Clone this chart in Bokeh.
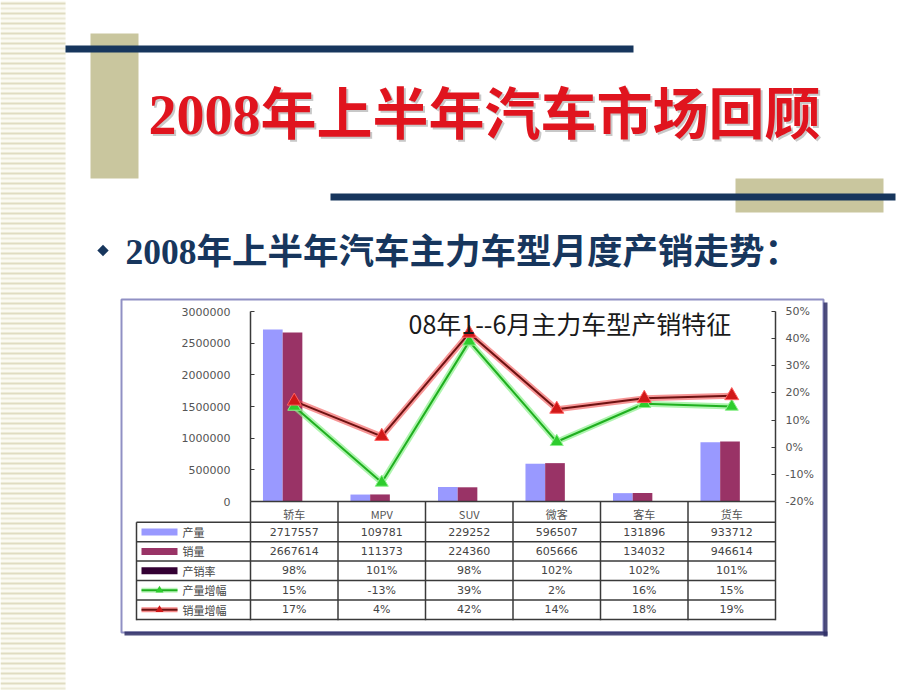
import math
from bokeh.plotting import figure
from bokeh.models import (Range1d, LinearAxis, Label, ColumnDataSource,
                          NumeralTickFormatter, FixedTicker)
from bokeh.transform import dodge
from bokeh.embed import file_html
from bokeh.resources import INLINE

# ---------------- data ----------------
categories = ["轿车", "MPV", "SUV", "微客", "客车", "货车"]
production = [2717557, 109781, 229252, 596507, 131896, 933712]
sales = [2667614, 111373, 224360, 605666, 134032, 946614]
ratio_pct = [98, 101, 98, 102, 102, 101]
prod_growth_pct = [15, -13, 39, 2, 16, 15]
sales_growth_pct = [17, 4, 42, 14, 18, 19]
row_names = ["产量", "销量", "产销率", "产量增幅", "销量增幅"]
volume_ticks = [0, 500000, 1000000, 1500000, 2000000, 2500000, 3000000]
growth_ticks_pct = [-20, -10, 0, 10, 20, 30, 40, 50]
slide_title = "2008年上半年汽车市场回顾"
slide_subtitle = "2008年上半年汽车主力车型月度产销走势："
chart_title = "08年1--6月主力车型产销特征"

# ---------------- style ----------------
C_PROD, C_SALES, C_RATIO = "#9999FF", "#993366", "#330033"
C_G_CORE, C_G_GLOW, C_G_MARK = "#1FAF1F", "#8CF08C", "#2ECC2E"
C_R_CORE, C_R_GLOW, C_R_MARK = "#6E1212", "#F04040", "#D01818"
NAVY, KHAKI = "#17365D", "#C9C69E"
GRIDC = "#3A3A3A"
TXT = "#444444"
CJK = "Noto Sans CJK SC"
NUMF = "DejaVu Sans"

W, H = 920, 690
FX0, FX1, FY0, FY1 = 250, 775, 311, 501   # chart plot area on the page (pixels)

n = len(categories)
xpos = [i + 0.5 for i in range(n)]   # category slot centres

# ranges chosen so the chart's plot area sits at FX0..FX1 / FY0..FY1 of a full-page frame
ux = (FX1 - FX0) / n
vmax = volume_ticks[-1]
uy = vmax / (FY1 - FY0)
g0, g1 = growth_ticks_pct[0] / 100, growth_ticks_pct[-1] / 100
ug = (g1 - g0) / (FY1 - FY0)

p = figure(width=W, height=H,
           x_range=Range1d(-FX0 / ux, (W - FX0) / ux),
           y_range=Range1d(-(H - FY1) * uy, FY1 * uy),
           x_axis_location=None, y_axis_location=None,
           output_backend="svg", toolbar_location=None, tools="", min_border=0)
p.extra_x_ranges = {"px": Range1d(0, W)}
p.extra_y_ranges = {"py": Range1d(H, 0),
                    "pct": Range1d(g0 - (H - FY1) * ug, g0 + FY1 * ug)}
p.background_fill_color = "white"
p.border_fill_color = "white"
p.outline_line_color = None
p.xgrid.visible = False
p.ygrid.visible = False


def boxes(spec, color, alpha=1.0):
    l, r, t, b = zip(*spec)
    p.quad(left=list(l), right=list(r), top=list(t), bottom=list(b),
           x_range_name="px", y_range_name="py",
           fill_color=color, fill_alpha=alpha, line_color=None)


def label(x, y, text, size, color, font, align="left", style="normal", alpha=1.0):
    p.add_layout(Label(x=x, y=y, text=text, x_range_name="px", y_range_name="py",
                       text_font=font, text_font_size=size, text_color=color,
                       text_font_style=style, text_align=align,
                       text_baseline="middle", text_alpha=alpha))


# ---------------- slide decoration ----------------
boxes([(0, 65, 0, H)], "#FBFAF2")
stripes = list(range(2, H, 5))
boxes([(0, 65, yy, yy + 2) for yy in stripes[0::2]], "#E0DCC0")
boxes([(0, 65, yy, yy + 2) for yy in stripes[1::2]], "#ECE9D6")

boxes([(90, 138, 33, 178), (735, 883, 178, 212)], KHAKI)
boxes([(65, 633, 45, 52), (330, 895, 193, 200)], NAVY)

title_font = "Liberation Serif, " + CJK
label(150, 116, slide_title, "56px", "#9A9A9A", title_font, style="bold", alpha=0.55)
label(148, 114, slide_title, "56px", "#E0141E", title_font, style="bold")

p.scatter([102.5], [250], marker="square", size=8, angle=math.pi / 4,
          x_range_name="px", y_range_name="py", fill_color=NAVY, line_color=None)
label(125, 251, slide_subtitle, "35.5px", NAVY, title_font, style="bold")

# ---------------- chart box ----------------
p.quad(left=[121], right=[823], top=[299], bottom=[632], x_range_name="px", y_range_name="py",
       fill_color=None, line_color="#9090C4", line_width=2)
boxes([(823, 827, 302, 636), (124, 827, 631, 635)], "#2E2E66", 0.85)

label(408, 322, chart_title, "25px", "#1A1A1A", CJK)

# ---------------- bars ----------------
src = ColumnDataSource(dict(
    x=xpos, prod=production, sales=sales,
    ratio=[v / 100 for v in ratio_pct],
    pg=[v / 100 for v in prod_growth_pct],
    sg=[v / 100 for v in sales_growth_pct]))

p.vbar(x=dodge("x", -0.245), top="prod", width=0.225, source=src,
       fill_color=C_PROD, line_color=None)
p.vbar(x=dodge("x", -0.02), top="sales", width=0.225, source=src,
       fill_color=C_SALES, line_color=None)
p.vbar(x=dodge("x", 0.205), top="ratio", width=0.225, source=src,
       fill_color=C_RATIO, line_color=None)

# ---------------- growth lines ----------------
p.line("x", "pg", source=src, y_range_name="pct", line_width=6, line_color=C_G_GLOW, line_alpha=0.7)
p.line("x", "pg", source=src, y_range_name="pct", line_width=2, line_color=C_G_CORE)
p.line("x", "sg", source=src, y_range_name="pct", line_width=6, line_color=C_R_GLOW, line_alpha=0.55)
p.line("x", "sg", source=src, y_range_name="pct", line_width=2, line_color=C_R_CORE)
p.scatter("x", "pg", source=src, y_range_name="pct", marker="triangle", size=13,
          fill_color=C_G_MARK, line_color=C_G_GLOW, line_width=1)
p.scatter("x", "sg", source=src, y_range_name="pct", marker="triangle", size=14,
          fill_color=C_R_MARK, line_color="#FF6060", line_width=1)

# ---------------- axes ----------------
def style_axis(ax, font, inner=4):
    ax.major_tick_in, ax.major_tick_out = inner, 0
    ax.minor_tick_line_color = None
    ax.major_label_text_font = font
    ax.major_label_text_font_size = "11px"
    ax.major_label_text_color = "#555555"
    ax.axis_line_color = GRIDC
    ax.axis_line_width = 1.5
    ax.major_tick_line_color = GRIDC


yl = LinearAxis(fixed_location=0, bounds=(0, vmax),
                ticker=FixedTicker(ticks=volume_ticks),
                formatter=NumeralTickFormatter(format="0"))
style_axis(yl, NUMF)
yl.major_label_standoff = 20
p.add_layout(yl, "left")

yr = LinearAxis(y_range_name="pct", fixed_location=n, bounds=(g0, g1),
                ticker=FixedTicker(ticks=[t / 100 for t in growth_ticks_pct]),
                formatter=NumeralTickFormatter(format="0%"))
style_axis(yr, NUMF)
yr.major_label_standoff = 10
p.add_layout(yr, "right")

xa = LinearAxis(fixed_location=0, bounds=(0, n), ticker=FixedTicker(ticks=xpos),
                major_label_overrides={x: c for x, c in zip(xpos, categories)})
style_axis(xa, CJK, inner=0)
xa.major_tick_line_color = None
xa.major_label_standoff = 4
p.add_layout(xa, "below")

# ---------------- data table ----------------
col_w = (FX1 - FX0) / n
TBL_L, TBL_T, TBL_B = 136, 521.7, 619
row_h = (TBL_B - TBL_T) / len(row_names)
LW = 1.5

grid = [(FX0 + i * col_w - LW / 2, FX0 + i * col_w + LW / 2, FY1, TBL_B + LW / 2) for i in range(n + 1)]
grid.append((TBL_L - LW / 2, TBL_L + LW / 2, TBL_T, TBL_B + LW / 2))
grid += [(TBL_L, FX1, TBL_T + r * row_h - LW / 2, TBL_T + r * row_h + LW / 2)
         for r in range(len(row_names) + 1)]
boxes(grid, GRIDC)

rows = [
    [str(v) for v in production],
    [str(v) for v in sales],
    [f"{v}%" for v in ratio_pct],
    [f"{v}%" for v in prod_growth_pct],
    [f"{v}%" for v in sales_growth_pct],
]
for r, vals in enumerate(rows):
    cy = TBL_T + (r + 0.5) * row_h
    for i, s in enumerate(vals):
        label(FX0 + (i + 0.5) * col_w, cy, s, "11px", TXT, NUMF, align="center")
    label(182, cy, row_names[r], "11px", TXT, CJK)

for r, c in enumerate([C_PROD, C_SALES, C_RATIO]):
    cy = TBL_T + (r + 0.5) * row_h
    boxes([(141, 177, cy - 3.5, cy + 3.5)], c)
for r, (core, glow, mark) in zip([3, 4], [(C_G_CORE, C_G_GLOW, C_G_MARK), (C_R_CORE, C_R_GLOW, C_R_MARK)]):
    cy = TBL_T + (r + 0.5) * row_h
    boxes([(141, 177, cy - 2.5, cy + 2.5)], glow, 0.6)
    boxes([(141, 177, cy - 1, cy + 1)], core)
    p.scatter([159], [cy], marker="triangle", size=8, x_range_name="px", y_range_name="py",
              fill_color=mark, line_color=None)

open("out.html", "w").write(file_html(p, INLINE))
